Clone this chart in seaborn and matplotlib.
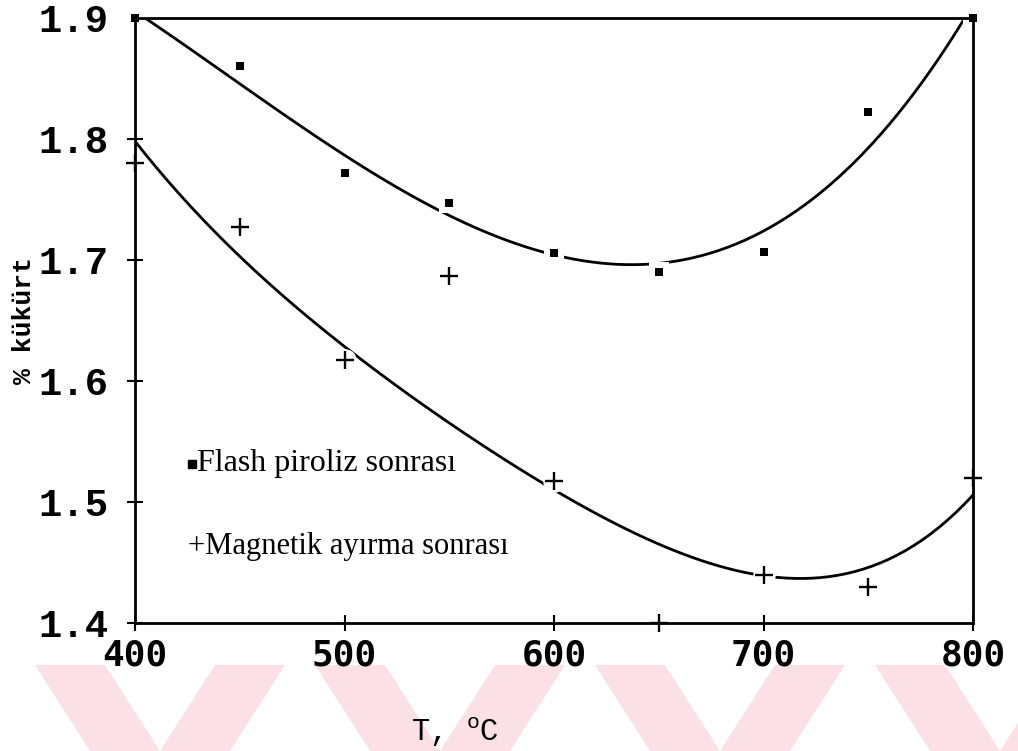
import matplotlib
matplotlib.use("Agg")
import numpy as np
import pandas as pd
import seaborn as sns
import matplotlib.pyplot as plt
from matplotlib.patches import Polygon

# Sulfur content (%) after each treatment versus pyrolysis temperature (°C)
temperature = [400, 450, 500, 550, 600, 650, 700, 750, 800]
flash_sulfur = [1.90, 1.86, 1.772, 1.747, 1.706, 1.690, 1.707, 1.822, 1.90]
magnetic_sulfur = [1.78, 1.727, 1.617, 1.687, 1.517, 1.40, 1.44, 1.43, 1.52]
# smoothed trend of the magnetic-separation series at the same temperatures
magnetic_trend = [1.795, 1.714, 1.618, 1.563, 1.517, 1.464, 1.44, 1.443, 1.507]
x_ticks = [400, 500, 600, 700, 800]
y_ticks = [1.4, 1.5, 1.6, 1.7, 1.8, 1.9]
flash_label = "Flash piroliz sonrası"
magnetic_label = "Magnetik ayırma sonrası"

sns.set_theme(style="white")
plt.rcParams["mathtext.fontset"] = "custom"
plt.rcParams["mathtext.rm"] = "Liberation Mono"

df = pd.DataFrame({"T": temperature, "flash": flash_sulfur,
                   "mag": magnetic_sulfur, "mag_trend": magnetic_trend})

W, H = 1018, 751
fig = plt.figure(figsize=(W / 100, H / 100), dpi=100)
fig.patch.set_facecolor("white")

# pale chevron watermark along the bottom edge, on a background layer
bg = fig.add_axes([0, 0, 1, 1], zorder=-1)
bg.set_xlim(0, W)
bg.set_ylim(H, 0)
bg.axis("off")
pink = "#fbe0e5"
band_top, band_bot = 665, H
for c in [160, 440, 720, 1000]:
    left_arm = [(c - 125, band_top), (c - 55, band_top), (c + 0, band_bot), (c - 70, band_bot)]
    right_arm = [(c + 55, band_top), (c + 125, band_top), (c + 70, band_bot), (c + 0, band_bot)]
    for arm in (left_arm, right_arm):
        bg.add_patch(Polygon(arm, closed=True, facecolor=pink, edgecolor="none"))

ax = fig.add_axes([135 / W, 1 - 623 / H, (973 - 135) / W, (623 - 18) / H])
ax.set_facecolor("none")

line_style = dict(color="black", lw=2.0, zorder=2)
sns.regplot(data=df, x="T", y="flash", order=3, ci=None, scatter=False,
            line_kws=line_style, ax=ax)
sns.regplot(data=df, x="T", y="mag_trend", order=4, ci=None, scatter=False,
            line_kws=line_style, ax=ax)

# white halos leave small gaps in the curves around the points
ax.scatter(temperature, flash_sulfur, s=190, marker="s", color="white",
           zorder=2.3, clip_on=False, linewidths=0)
ax.scatter(temperature, magnetic_sulfur, s=260, marker="o", color="white",
           zorder=2.3, clip_on=False, linewidths=0)
ax.scatter(temperature, flash_sulfur, s=26, marker="s", color="black",
           zorder=4, clip_on=False, linewidths=0)
ax.scatter(temperature, magnetic_sulfur, s=150, marker="+", color="black",
           zorder=4, clip_on=False, linewidths=1.7)

ax.set_xlim(400, 800)
ax.set_ylim(1.4, 1.9)
ax.set_xticks(x_ticks)
ax.set_yticks(y_ticks)
ax.set_xticklabels([str(v) for v in x_ticks], fontfamily="DejaVu Sans Mono",
                   fontweight="bold", fontsize=26)
ax.set_yticklabels([f"{v:.1f}" for v in y_ticks], fontfamily="Liberation Mono",
                   fontweight="bold", fontsize=28)
ax.tick_params(axis="both", direction="inout", length=12, width=1.5,
               colors="black", bottom=True, left=True)
ax.tick_params(axis="x", pad=5)
ax.tick_params(axis="y", pad=13)

for sp in ax.spines.values():
    sp.set_visible(True)
    sp.set_color("black")
    sp.set_linewidth(2.0)

ax.set_xlabel("T, $^{\\mathrm{o}}$C", fontfamily="Liberation Mono", fontsize=22,
              color="black")
ax.xaxis.set_label_coords(0.382, -0.152)
ax.set_ylabel("% kükürt", fontfamily="Liberation Mono", fontsize=19,
              fontweight="bold", color="black")
ax.yaxis.set_label_coords(-0.118, 0.5)

# legend drawn as marker + text inside the axes
ax.scatter([0.068], [0.263], s=26, marker="s", color="black",
           transform=ax.transAxes, zorder=4)
ax.text(0.074, 0.263, flash_label, transform=ax.transAxes, va="center",
        ha="left", fontfamily="Liberation Serif", fontsize=23, color="black")
ax.text(0.063, 0.126, "+" + magnetic_label, transform=ax.transAxes,
        va="center", ha="left", fontfamily="Liberation Serif", fontsize=22,
        color="black")

fig.savefig("out.png", dpi=100)
